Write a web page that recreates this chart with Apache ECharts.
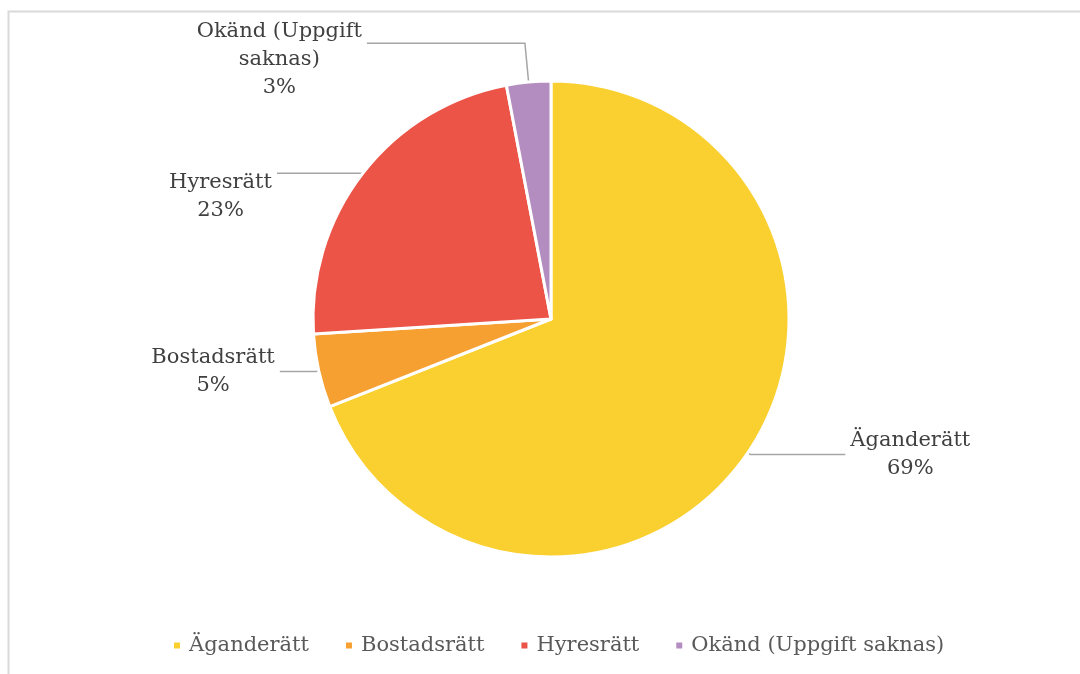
<!DOCTYPE html>
<html>
<head>
<meta charset="utf-8">
<script src="https://cdn.jsdelivr.net/npm/echarts@6/dist/echarts.min.js"></script>
<style>
  html, body { margin: 0; padding: 0; background: #fff; }
  #myChart { width: 1080px; height: 674px; }
</style>
</head>
<body>
<div id="myChart"></div>
<script>
var categories = ["Äganderätt", "Bostadsrätt", "Hyresrätt", "Okänd (Uppgift saknas)"];
var labelNames = ["Äganderätt", "Bostadsrätt", "Hyresrätt", "Okänd (Uppgift\nsaknas)"];
var values = [69, 5, 23, 3];
var colors = ["#F9D030", "#F5A031", "#EB5447", "#B48DC0"];

// label line lengths and top padding per slice (to mimic the Excel label placement)
var lineLen = [3, 3, 0, 39];
var lineLen2 = [95, 36, 86, 158];
var padTop = [0, 0, 46, 32];

var chartDom = document.getElementById("myChart");
var myChart = echarts.init(chartDom);
var option;

var data = values.map(function (v, i) {
  return {
    name: categories[i],
    value: v,
    itemStyle: { color: colors[i] },
    label: {
      formatter: labelNames[i].split("\n").map(function (s) { return "{a|" + s + "}"; }).join("\n") + "\n{a|{d}%}",
      padding: [padTop[i], 0, 0, 0]
    },
    labelLine: { length: lineLen[i], length2: lineLen2[i] }
  };
});

option = {
  animation: false,
  graphic: [
    {
      type: "rect",
      shape: { x: 8.5, y: 11.5, width: 1100, height: 700 },
      style: { fill: "none", stroke: "#d9d9d9", lineWidth: 2 },
      silent: true
    }
  ],
  legend: {
    data: categories,
    bottom: 13,
    left: 167,
    icon: "rect",
    itemWidth: 8,
    itemHeight: 8,
    itemGap: 35,
    textStyle: { fontFamily: "DejaVu Serif", fontSize: 21, color: "#595959", padding: [0, 0, 0, 3] }
  },
  series: [
    {
      type: "pie",
      center: [551, 319],
      radius: [0, 238],
      startAngle: 90,
      clockwise: true,
      avoidLabelOverlap: false,
      percentPrecision: 0,
      itemStyle: { borderColor: "#fff", borderWidth: 3 },
      label: {
        show: true,
        position: "outside",
        fontFamily: "DejaVu Serif",
        fontSize: 21,
        color: "#404040",
        rich: {
          a: { align: "center", fontFamily: "DejaVu Serif", fontSize: 21, lineHeight: 28, color: "#404040" }
        }
      },
      labelLine: {
        show: true,
        smooth: false,
        lineStyle: { color: "#a6a6a6", width: 1.5 }
      },
      data: data
    }
  ]
};

option && myChart.setOption(option);
</script>
</body>
</html>
